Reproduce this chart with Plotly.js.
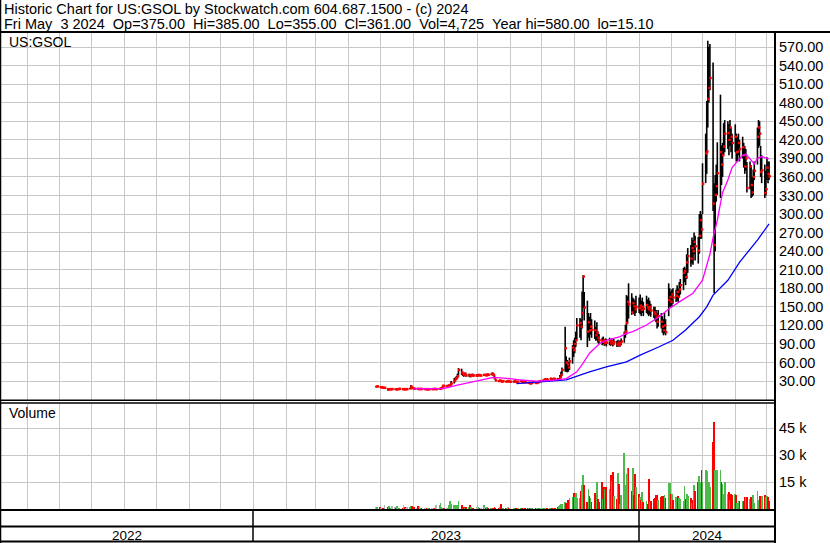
<!DOCTYPE html>
<html>
<head>
<meta charset="utf-8">
<script src="https://cdn.plot.ly/plotly-3.0.1.min.js"></script>
<style>html,body{margin:0;padding:0;background:#fff;}#chart{width:830px;height:543px;}</style>
</head>
<body>
<div id="chart"></div>
<script>
// ---------------- DATA ----------------
const symbol = 'US:GSOL';
const firstDay = '2023-04-27';
const lastDay = '2024-05-03';
const yearLabels = ['2022', '2023', '2024'];
const priceTicks = [30,60,90,120,150,180,210,240,270,300,330,360,390,420,450,480,510,540,570];
const volumeTicks = [15, 30, 45];          // thousands
const volumeTickText = ['15 k', '30 k', '45 k'];

// daily closes (one per trading day)
const closes = [
  // Apr 2023
  21, 21.5,
  // May
  20, 20, 19.5, 19, 19, 16, 17, 16.5, 17, 17, 17, 16.5, 17, 17, 17.5, 17, 17, 16.5, 17, 17, 18, 21, 19,
  // Jun
  18, 17.5, 17.5, 17, 17, 17.5, 17, 17, 17, 16.5, 16.5, 17, 17, 17, 17.5, 17, 17, 17.5, 18, 19, 22.5, 22,
  // Jul
  22, 22.5, 23, 24, 26, 30, 33, 35, 38, 48, 44, 41, 40, 42, 39, 40, 38, 39, 40, 39, 39,
  // Aug
  39, 40, 39, 39, 40, 40, 39, 41, 40, 41, 42, 40, 35, 31, 30, 31, 30, 29, 30, 29, 30, 30, 29,
  // Sep
  29, 29, 30, 29, 28, 29, 30, 29, 28, 29, 28, 27, 27, 26, 27, 28, 27, 27, 28, 29, 30,
  // Oct
  31, 32, 33, 33, 32, 34, 33, 32, 34, 33, 32, 33, 36, 40, 48, 83, 60, 57, 52, 62, 84, 80,
  // Nov
  90, 96, 120, 124, 118, 140, 199, 149, 110, 125, 112, 118, 113, 112, 104, 108, 100, 96, 94, 96, 91, 93,
  // Dec
  92, 95, 91, 94, 90, 93, 89, 92, 88, 91, 94, 107, 110, 124, 158, 154, 141, 156, 151, 146, 150,
  // Jan 2024
  148, 152, 145, 150, 147, 153, 149, 146, 150, 144, 141, 138, 133, 126, 135, 126, 118, 112, 120, 109, 161, 166, 158,
  // Feb
  170, 165, 168, 174, 166, 178, 185, 205, 208, 198, 222, 232, 228, 245, 240, 255, 248, 241, 265, 290, 275,
  // Mar
  349, 398, 401, 486, 504, 520, 317, 250, 331, 345, 366, 400, 380, 395, 409, 430, 431, 420, 440, 425, 415,
  // Apr
  425, 400, 401, 415, 405, 408, 395, 377, 390, 342, 377, 347, 335, 360, 370, 425, 440, 430, 368, 371, 334, 340,
  // May
  375, 365, 361
];
const highs = [
  22, 22.5,
  21, 20.5, 20, 20, 19.5, 18.3, 18, 17, 17.5, 17.5, 17.5, 17, 17.5, 17.5, 18, 17.5, 17.5, 17, 17.5, 17.5, 19, 23.5, 21,
  19, 18.5, 18, 17.5, 17.5, 18, 17.5, 17.5, 17.5, 17, 17, 17.5, 17.5, 17.5, 18, 17.5, 17.5, 18, 18.5, 20, 23, 23,
  23, 23.5, 24, 25, 30, 35, 36, 38, 42, 51, 50, 45, 43, 44, 42, 42, 40, 41, 42, 41, 41,
  41, 41, 40, 40, 41, 41, 40, 42, 41, 42, 44, 42, 40, 33, 31, 32, 31, 30, 31, 30, 31, 31, 30,
  30, 30, 31, 30, 29, 30, 31, 30, 29, 30, 29, 28, 28, 27, 28, 29, 28, 28, 29, 30, 31,
  32, 33, 34, 34, 33, 35, 34, 33, 35, 34, 35, 34, 40, 45, 52, 118, 70, 64, 61, 68, 88, 96,
  100, 110, 132, 132, 130, 175, 201, 174, 160, 140, 134, 140, 130, 128, 118, 125, 110, 106, 100, 102, 97, 99,
  98, 100, 97, 99, 96, 98, 95, 97, 94, 96, 99, 110, 121, 169, 167, 188, 172, 165, 163, 160, 168,
  165, 170, 160, 165, 158, 168, 162, 165, 160, 155, 150, 150, 145, 140, 145, 140, 135, 130, 140, 130, 188, 180, 175,
  178, 180, 178, 185, 180, 190, 195, 213, 215, 212, 235, 245, 250, 262, 258, 270, 265, 263, 300, 305, 300,
  382, 430, 483, 580, 570, 575, 545, 350, 363, 380, 416, 493, 411, 415, 447, 452, 450, 445, 452, 440, 430,
  445, 430, 425, 430, 420, 425, 415, 410, 405, 384, 385, 379, 360, 372, 385, 440, 452, 450, 410, 395, 380, 370,
  392, 385, 385
];
const lows = [
  20, 20.5,
  19.5, 19.5, 19, 18.5, 18.5, 15.1, 16.5, 16, 16.5, 16.5, 16.5, 16, 16.5, 16.5, 17, 16.5, 16.5, 16, 16.5, 16.5, 17, 18.5, 18.5,
  17.5, 17, 17, 16.5, 16.5, 17, 16.5, 16.5, 16.5, 16, 16, 16.5, 16.5, 16.5, 17, 16.5, 16.5, 17, 17.5, 18, 19, 21.5,
  21, 22, 22, 23, 24, 26, 30, 32, 35, 40, 40, 38, 37, 38, 37, 37, 36, 37, 38, 37, 37,
  38, 39, 38, 38, 39, 39, 38, 40, 39, 40, 41, 38, 33, 30, 29, 30, 29, 28, 29, 28, 29, 29, 28,
  28, 28, 29, 28, 27, 28, 29, 28, 27, 28, 27, 26, 26, 25, 26, 27, 26, 26, 27, 28, 29,
  30, 31, 32, 32, 31, 33, 32, 31, 33, 32, 30, 32, 33, 35, 40, 45, 45, 44, 45, 48, 58, 69,
  75, 85, 96, 100, 96, 115, 148, 128, 85, 100, 95, 105, 100, 98, 95, 96, 92, 90, 88, 90, 87, 88,
  86, 88, 87, 89, 86, 88, 85, 87, 85, 86, 88, 92, 100, 105, 123, 131, 137, 140, 138, 135, 140,
  140, 138, 135, 140, 135, 140, 138, 135, 137, 134, 132, 128, 125, 115, 118, 115, 108, 104, 107, 104, 135, 150, 150,
  150, 155, 158, 160, 158, 165, 170, 177, 190, 185, 195, 205, 215, 220, 218, 235, 225, 220, 236, 260, 260,
  300, 350, 365, 440, 480, 500, 305, 172, 240, 320, 331, 326, 347, 360, 395, 400, 405, 395, 410, 400, 390,
  400, 385, 385, 395, 385, 390, 375, 365, 370, 335, 340, 326, 328, 330, 355, 380, 407, 410, 360, 350, 326, 330,
  355, 350, 355
];
// daily volume, thousands of shares
const volumes = [
  1.3, 1.0,
  1.3, 0.5, 0.8, 0.6, 2.3, 0.9, 1.4, 0.5, 0.7, 1.7, 1.0, 0.6, 1.7, 0.8, 0.6, 0.3, 2.3, 1.0, 0.6, 1.2, 1.3, 1.5, 1.7,
  0.6, 1.2, 0.8, 1.6, 1.7, 0.3, 0.6, 0.3, 0.4, 0.3, 0.4, 0.4, 0.3, 0.5, 0.3, 0.4, 2.3, 2.3, 3.5, 0.9, 0.5, 0.6,
  0.5, 0.3, 2.3, 4.6, 3.0, 2.3, 2.3, 2.3, 2.0, 4.6, 2.3, 1.2, 1.0, 0.6, 0.9, 0.9, 2.3, 1.2, 0.4, 0.8, 1.3,
  2.3, 1.2, 0.8, 0.6, 2.3, 1.2, 0.5, 0.9, 0.4, 0.6, 0.3, 0.5, 1.0, 0.5, 0.3, 1.2, 2.9, 0.5, 0.3, 0.6, 0.3, 1.0, 0.4,
  0.3, 0.3, 0.4, 0.3, 0.3, 0.3, 0.6, 0.3, 0.3, 0.3, 0.4, 0.6, 0.3, 0.3, 0.3, 0.3, 0.3, 0.4, 0.3, 0.3, 0.4,
  0.3, 0.4, 0.3, 0.5, 0.3, 0.3, 0.4, 0.3, 0.4, 0.3, 1.2, 1.5, 2.3, 2.6, 2.6, 3.9, 3.5, 2.0, 5.0, 6.0, 6.5, 8.7,
  6.5, 8.7, 6.0, 6.0, 10, 13.4, 19, 13.4, 4.0, 11, 7.0, 6.0, 4.0, 8.7, 5.5, 15, 5.5, 4.0, 15, 5.5, 12, 11,
  12, 11, 19, 15.6, 20.6, 7.0, 5.5, 20, 14, 3.0, 8.0, 31, 13.4, 19.5, 23, 23, 10, 23, 8.0, 19.5, 12,
  8.4, 6.7, 5.0, 9.5, 4.0, 4.5, 3.0, 17, 4.0, 4.5, 5.6, 6.0, 7.8, 7.8, 5.0, 6.5, 7.0, 7.0, 7.8, 6.0, 14.5, 14.5, 8.4,
  8.4, 5.0, 6.7, 4.5, 7.3, 6.2, 5.5, 4.5, 12.8, 5.5, 8.4, 7.3, 6.0, 3.3, 5.0, 13.4, 10, 15, 18.4, 15, 22,
  15, 22, 21, 9.5, 15, 12.3, 37.4, 48.5, 22, 18.4, 21.8, 22, 15, 14, 8.4, 15, 8.4, 9.5, 5.0, 8.4, 7.8,
  8.4, 7.8, 3.3, 4.5, 4.5, 4.5, 4.5, 6.7, 6.7, 6.7, 5.6, 6.7, 4.0, 7.8, 3.3, 10, 5.0, 7.0, 7.0, 7.0, 7.8, 6.7,
  7.0, 6.7, 4.725
];

// short moving average (magenta)
const fastMaDates = ['2023-06-01','2023-06-30','2023-07-12','2023-07-27','2023-08-08','2023-08-16','2023-08-29',
  '2023-09-10','2023-09-26','2023-10-11','2023-10-24','2023-11-03','2023-11-09','2023-11-15','2023-11-25',
  '2023-12-01','2023-12-14','2023-12-20','2023-12-26','2024-01-08','2024-01-20','2024-01-30','2024-02-08',
  '2024-02-21','2024-03-01','2024-03-05','2024-03-08','2024-03-11','2024-03-15','2024-03-20','2024-03-25',
  '2024-03-29','2024-04-03','2024-04-08','2024-04-11','2024-04-13','2024-04-16','2024-04-19','2024-04-22',
  '2024-04-26','2024-05-01','2024-05-03'];
const fastMa = [17.5, 18, 23, 29, 34, 36, 34.5, 32, 30, 31, 34, 45, 59, 75, 91,
  96, 102, 107, 110, 120.6, 134, 147.6, 158,
  172, 193, 215, 235, 262, 290, 335, 355,
  375, 385, 395, 397, 393, 386, 381, 390,
  393, 390, 389];
// long moving average (blue)
const slowMaDates = ['2023-09-07','2023-09-29','2023-10-24','2023-11-15','2023-12-01','2023-12-20','2024-01-02',
  '2024-01-20','2024-02-02','2024-02-14','2024-02-27','2024-03-05','2024-03-11','2024-03-25','2024-04-05',
  '2024-04-22','2024-05-03'];
const slowMa = [26, 28.5, 32, 45, 53, 61, 72, 85.5, 96, 112.5, 134, 150, 169, 193, 222, 258, 284];

// ---------------- BUILD ----------------
function tradingDays(start, end) {
  const out = [];
  const d = new Date(start + 'T00:00:00Z');
  const e = new Date(end + 'T00:00:00Z');
  while (d <= e) {
    const w = d.getUTCDay();
    if (w !== 0 && w !== 6) out.push(d.toISOString().slice(0, 10));
    d.setUTCDate(d.getUTCDate() + 1);
  }
  return out;
}
const dates = tradingDays(firstDay, lastDay);
const n = Math.min(dates.length, closes.length, highs.length, lows.length, volumes.length);

const hlX = [], hlY = [];
for (let i = 0; i < n; i++) { hlX.push(dates[i], dates[i], null); hlY.push(lows[i], highs[i], null); }
// close tick sits just right of the high-low bar
const closeX = dates.slice(0, n).map(d => d + ' 15:00');
const volColors = [];
for (let i = 0; i < n; i++) {
  const prev = i > 0 ? closes[i - 1] : closes[i];
  volColors.push(closes[i] > prev ? '#4cbb4c' : (closes[i] < prev ? '#ff0000' : '#b4b4b4'));
}

const W = 830, H = 543, ML = 0, MR = 56, MT = 33, MB = 33;
const PW = W - ML - MR, PH = H - MT - MB;
const px = x => (x - ML) / PW;
const py = y => (H - MB - y) / PH;

const gridC = '#c8c8c8';
const FONT = 'Liberation Sans, Arial, sans-serif';

const traces = [
  { x: hlX, y: hlY, type: 'scatter', mode: 'lines', line: { color: '#000000', width: 1.6 },
    connectgaps: false, hoverinfo: 'skip', xaxis: 'x', yaxis: 'y', showlegend: false },
  { x: closeX, y: closes.slice(0, n), type: 'scatter', mode: 'markers',
    marker: { symbol: 'square', size: 2.4, color: '#ff0000', line: { width: 0 } },
    hoverinfo: 'skip', xaxis: 'x', yaxis: 'y', showlegend: false },
  { x: slowMaDates, y: slowMa, type: 'scatter', mode: 'lines', line: { color: '#0000ff', width: 1.3 },
    hoverinfo: 'skip', xaxis: 'x', yaxis: 'y', showlegend: false },
  { x: fastMaDates, y: fastMa, type: 'scatter', mode: 'lines', line: { color: '#ff00ff', width: 1.3 },
    hoverinfo: 'skip', xaxis: 'x', yaxis: 'y', showlegend: false },
  { x: dates.slice(0, n), y: volumes.slice(0, n), type: 'bar', width: 86400000 * 1.7,
    marker: { color: volColors, line: { width: 0 } }, hoverinfo: 'skip',
    xaxis: 'x2', yaxis: 'y2', showlegend: false }
];

const xRange = ['2022-05-06 00:00', '2024-05-07 16:00'];
const xCommon = { type: 'date', range: xRange, dtick: 'M1', tick0: '2022-06-01', showgrid: true,
  gridcolor: gridC, gridwidth: 1, showticklabels: false, ticks: '', zeroline: false, showline: false,
  fixedrange: true };

const lineShape = (x0, y0, x1, y1, w) => ({ type: 'line', xref: 'paper', yref: 'paper',
  x0: px(x0), y0: py(y0), x1: px(x1), y1: py(y1), line: { color: '#000000', width: w }, layer: 'above' });

const shapes = [
  lineShape(0, 32, 830, 32, 2),
  lineShape(775, 32, 775, 543, 2),
  lineShape(0, 400.3, 775, 400.3, 1.5),
  lineShape(0, 403, 775, 403, 1.5),
  lineShape(0, 510, 775, 510, 2),
  lineShape(0, 526.5, 775, 526.5, 2),
  lineShape(0, 541.5, 775, 541.5, 2),
  lineShape(253, 510, 253, 542, 1.5),
  lineShape(639, 510, 639, 542, 1.5),
  lineShape(0.5, 0, 0.5, 543, 1.5)
];

const ann = (text, x, y, size, anchor) => ({ text, x: px(x), y: py(y), xref: 'paper', yref: 'paper',
  xanchor: anchor || 'left', yanchor: 'middle', showarrow: false, font: { family: FONT, size, color: '#000000' } });
const S = '\u00a0';
const header1 = 'Historic Chart for ' + symbol + ' by Stockwatch.com 604.687.1500 - (c) 2024';
const header2 = 'Fri May' + S + S + '3 2024' + S + S + 'Op=375.00' + S + S + 'Hi=385.00' + S + S + 'Lo=355.00' + S + S +
  'Cl=361.00' + S + S + 'Vol=4,725' + S + S + 'Year hi=580.00' + S + S + 'lo=15.10';

const annotations = [
  ann(header1, 2, 8.5, 14.5),
  ann(header2, 2, 24, 14.5),
  ann(symbol, 7, 42, 14),
  ann('Volume', 7, 413, 14),
  ann(yearLabels[0], 126.5, 535, 13.5, 'center'),
  ann(yearLabels[1], 446, 535, 13.5, 'center'),
  ann(yearLabels[2], 707, 535, 13.5, 'center')
];

const layout = {
  width: W, height: H, autosize: false,
  margin: { l: ML, r: MR, t: MT, b: MB, pad: 0 },
  paper_bgcolor: '#ffffff', plot_bgcolor: '#ffffff',
  showlegend: false, bargap: 0,
  font: { family: FONT, size: 14, color: '#000000' },
  xaxis: Object.assign({ anchor: 'y' }, xCommon),
  xaxis2: Object.assign({ anchor: 'y2', matches: 'x' }, xCommon),
  yaxis: { domain: [py(400), py(33)], range: [-0.6, 592.7], side: 'right', anchor: 'x',
    tickvals: priceTicks, ticktext: priceTicks.map(v => v.toFixed(2)), showgrid: true, gridcolor: gridC,
    gridwidth: 1, zeroline: false, showline: false, ticks: '', ticklabelstandoff: 4,
    tickfont: { family: FONT, size: 14.5, color: '#000000' }, fixedrange: true },
  yaxis2: { domain: [0, py(404)], range: [-0.56, 58.56], side: 'right', anchor: 'x2',
    tickvals: volumeTicks, ticktext: volumeTickText, showgrid: true, gridcolor: gridC, gridwidth: 1,
    zeroline: false, showline: false, ticks: '', ticklabelstandoff: 4,
    tickfont: { family: FONT, size: 14.5, color: '#000000' }, fixedrange: true },
  shapes, annotations
};

Plotly.newPlot('chart', traces, layout, { displayModeBar: false, staticPlot: true });
</script>
</body>
</html>
